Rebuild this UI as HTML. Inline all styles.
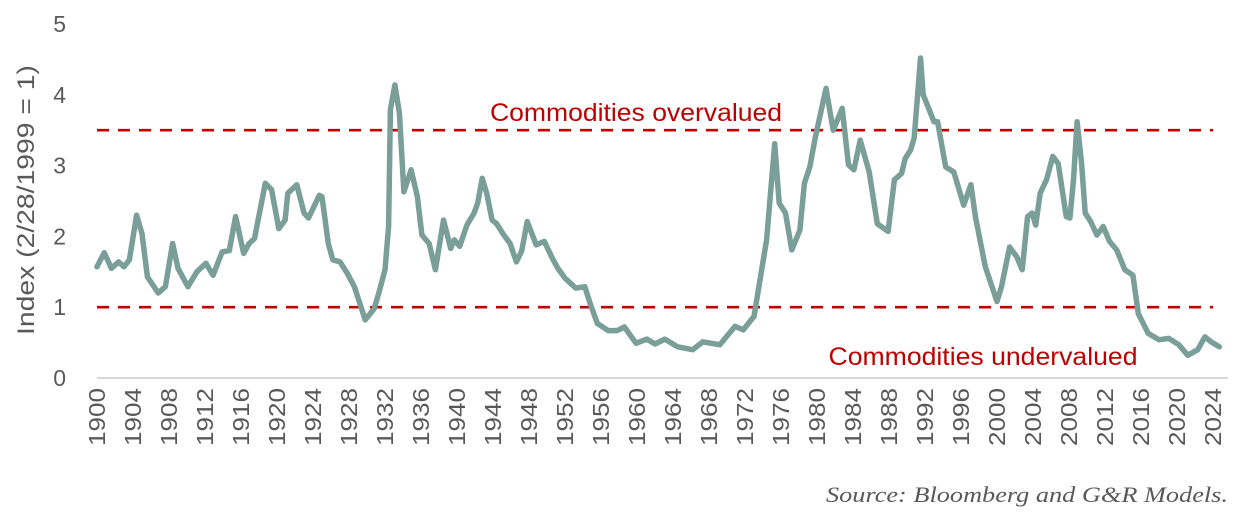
<!DOCTYPE html>
<html><head><meta charset="utf-8"><style>
html,body{margin:0;padding:0;background:#fff;}
svg{display:block;font-family:"Liberation Sans",sans-serif;}
</style></head><body>
<svg id="chart" width="1238" height="515" viewBox="0 0 1238 515" xmlns="http://www.w3.org/2000/svg">
<g id="yaxis"></g>
<g id="xaxis"></g>
<line x1="97" y1="378" x2="1228" y2="378" stroke="#d9d9d9" stroke-width="2"/>
<g id="refs"></g>
<g id="series"></g>
<text transform="translate(34,200) rotate(-90)" text-anchor="middle" font-size="24" fill="#595959" textLength="270" lengthAdjust="spacingAndGlyphs">Index (2/28/1999 = 1)</text>
<text x="636" y="121" text-anchor="middle" font-size="25" fill="#c00000" textLength="292" lengthAdjust="spacingAndGlyphs">Commodities overvalued</text>
<text x="983" y="365" text-anchor="middle" font-size="25" fill="#c00000" textLength="309" lengthAdjust="spacingAndGlyphs">Commodities undervalued</text>
<text x="1228" y="502" text-anchor="end" font-size="22" font-style="italic" fill="#595959" font-family="Liberation Serif, serif" textLength="402" lengthAdjust="spacingAndGlyphs">Source: Bloomberg and G&amp;R Models.</text>
</svg>
<script>
const years=[1900,1900.8,1901.6,1902.4,1903,1903.6,1904.4,1905,1905.6,1906.8,1907.6,1908.4,1909,1910.1,1911.1,1912.1,1912.9,1913.9,1914.7,1915.4,1916.3,1916.9,1917.5,1918.7,1919.4,1920.2,1920.9,1921.2,1922.2,1923,1923.5,1924.7,1925,1925.7,1926.2,1927,1927.8,1928.6,1929.8,1930.8,1931.4,1932,1932.4,1932.6,1933.1,1933.6,1934.1,1934.9,1935.6,1936.1,1936.9,1937.6,1938.5,1939.3,1939.7,1940.3,1941.1,1941.9,1942.3,1942.8,1943.3,1943.9,1944.4,1945.2,1945.9,1946.6,1947.2,1947.8,1948.8,1949.7,1950.6,1951.2,1952,1953.2,1954.2,1954.8,1955.6,1956.8,1957.8,1958.6,1959.9,1961.1,1962,1963.1,1964.5,1966.2,1967.3,1969.2,1970.9,1971.8,1973.0,1974.4,1975.3,1975.8,1976.5,1977.2,1978.1,1978.6,1979.2,1979.8,1981.0,1981.8,1982.8,1983.5,1984.1,1984.8,1985.8,1986.7,1987.9,1988.6,1989.4,1989.8,1990.4,1990.8,1991.5,1991.8,1993.0,1993.4,1994.3,1995.2,1996.3,1997.1,1997.6,1998.7,2000.0,2000.5,2001.4,2002.2,2002.8,2003.4,2003.9,2004.3,2004.8,2005.5,2006.2,2006.8,2007.7,2008.1,2008.5,2008.9,2009.4,2009.8,2010.4,2011.1,2011.8,2012.5,2013.3,2014.2,2015.1,2015.7,2016.8,2018.0,2019.1,2020.2,2021.2,2022.3,2023.1,2023.8,2024.7];
const values=[1.57,1.77,1.55,1.64,1.57,1.67,2.30,2.04,1.43,1.20,1.29,1.90,1.55,1.29,1.50,1.62,1.45,1.78,1.80,2.28,1.76,1.90,1.97,2.75,2.66,2.11,2.23,2.61,2.73,2.33,2.26,2.58,2.56,1.90,1.67,1.64,1.48,1.29,0.82,0.98,1.24,1.53,2.14,3.79,4.14,3.74,2.63,2.94,2.56,2.02,1.90,1.53,2.23,1.83,1.95,1.86,2.16,2.33,2.47,2.82,2.61,2.23,2.18,2.02,1.90,1.64,1.80,2.21,1.88,1.93,1.69,1.55,1.41,1.27,1.29,1.05,0.77,0.67,0.67,0.72,0.49,0.55,0.48,0.55,0.44,0.40,0.51,0.47,0.73,0.68,0.87,1.95,3.31,2.47,2.33,1.81,2.09,2.75,2.98,3.39,4.09,3.50,3.81,3.01,2.94,3.36,2.91,2.18,2.07,2.80,2.89,3.10,3.22,3.39,4.52,4.00,3.62,3.62,2.98,2.91,2.44,2.73,2.28,1.57,1.08,1.29,1.85,1.71,1.53,2.28,2.33,2.16,2.61,2.80,3.13,3.03,2.28,2.26,2.80,3.62,3.03,2.33,2.21,2.02,2.14,1.93,1.81,1.53,1.45,0.91,0.63,0.54,0.56,0.47,0.32,0.40,0.58,0.51,0.44];
const yTicks=[0,1,2,3,4,5];
const refLevels=[3.5,1];
const xTickStart=1900, xTickEnd=2024, xTickStep=4;

const NS='http://www.w3.org/2000/svg';
function xS(y){return 97+(y-1900)*9.0;}
function yS(v){return 378-v*70.8;}
function mk(tag,attrs,parent){const e=document.createElementNS(NS,tag);for(const k in attrs)e.setAttribute(k,attrs[k]);parent.appendChild(e);return e;}

const ya=document.getElementById('yaxis');
yTicks.forEach(t=>{
  const e=mk('text',{x:66,y:yS(t)+8,'text-anchor':'end','font-size':23,fill:'#595959'},ya);
  
  
  e.textContent=t;
});
const xa=document.getElementById('xaxis');
for(let yr=xTickStart;yr<=xTickEnd;yr+=xTickStep){
  const x=xS(yr)+8;
  const e=mk('text',{transform:`translate(${x},388) rotate(-90)`,'text-anchor':'end','font-size':23,fill:'#595959',textLength:58,lengthAdjust:'spacingAndGlyphs'},xa);
  
  
  e.textContent=yr;
}
const rf=document.getElementById('refs');
refLevels.forEach(v=>{
  const l=mk('line',{x1:97,x2:1213,y1:yS(v),y2:yS(v),stroke:'#c00000','stroke-width':2.6,'stroke-dasharray':'12 9'},rf);
  
  
});
const sg=document.getElementById('series');
let d='';
years.forEach((yr,i)=>{d+=(i?'L':'M')+xS(yr).toFixed(1)+','+yS(values[i]).toFixed(1);});
const p=mk('path',{d:d,fill:'none',stroke:'#7a9e98','stroke-width':5.5,'stroke-linejoin':'round','stroke-linecap':'round'},sg);


</script>
</body></html>
